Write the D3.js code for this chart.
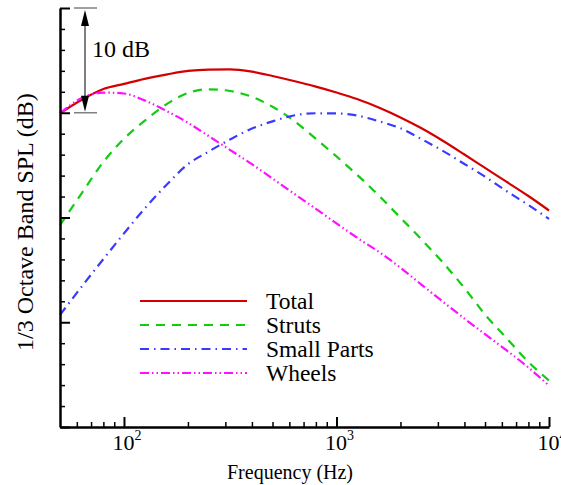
<!DOCTYPE html>
<html>
<head>
<meta charset="utf-8">
<script src="https://cdn.jsdelivr.net/npm/d3@7"></script>
<style>
  html, body { margin: 0; padding: 0; background: #fff; }
  svg { display: block; }
  text { font-family: "Liberation Serif", "Times New Roman", serif; fill: #000; }
</style>
</head>
<body>
<svg id="chart" width="561" height="485"></svg>
<script>
// 1/3-octave band centre frequencies (Hz)
const freqs = [50, 63, 80, 100, 125, 160, 200, 250, 315, 400, 500, 630, 800,
               1000, 1250, 1600, 2000, 2500, 3150, 4000, 5000, 6300, 8000, 10000];

// Relative SPL values (dB)
const total = [29.95, 31.22, 32.27, 32.76, 33.24, 33.67, 33.99, 34.12, 34.14, 33.92, 33.51, 33.03,
               32.49, 31.93, 31.31, 30.45, 29.55, 28.54, 27.35, 26.01, 24.73, 23.42, 22.05, 20.67];
const struts = [19.28, 22.26, 25.30, 27.51, 29.23, 30.87, 31.89, 32.24, 32.08, 31.52, 30.57, 29.24,
                27.51, 25.83, 24.08, 22.00, 19.98, 17.95, 15.75, 13.27, 10.74, 8.50, 6.21, 4.44];
const smallParts = [10.70, 13.36, 16.03, 18.48, 20.84, 23.20, 25.09, 26.29, 27.44, 28.49, 29.18, 29.74,
                    29.95, 29.94, 29.73, 29.16, 28.52, 27.51, 26.39, 25.11, 23.90, 22.53, 21.19, 19.86];
const wheels = [29.95, 31.38, 31.93, 31.84, 31.18, 30.13, 29.05, 27.78, 26.46, 25.09, 23.72, 22.29,
                20.83, 19.44, 18.07, 16.65, 15.21, 13.62, 12.00, 10.35, 8.86, 7.33, 5.68, 3.95];

const seriesNames = ["Total", "Struts", "Small Parts", "Wheels"];
const xMajorTicks = [100, 1000, 10000];
const xMajorExponents = ["2", "3", "4"];
const yMajorTicks = [0, 10, 20, 30, 40];
const yMinorTicks = [2, 4, 6, 8, 12, 14, 16, 18, 22, 24, 26, 28, 32, 34, 36, 38];
const annotationLabel = "10 dB";
const xTitle = "Frequency (Hz)";
const yTitle = "1/3 Octave Band SPL (dB)";

const styles = [
  { color: "#d40000", dash: null },
  { color: "#11cc11", dash: "9,7" },
  { color: "#3a3aff", dash: "9,5,1.5,5" },
  { color: "#ff11ff", dash: "9,3,1.5,3,1.5,3" }
];
const seriesData = [total, struts, smallParts, wheels];

const svg = d3.select("#chart");
const mLeft = 60, mRight = 549, mTop = 8, mBottom = 427;

const x = d3.scaleLog().domain([50, 10000]).range([mLeft, mRight]);
const y = d3.scaleLinear().domain([0, 40]).range([mBottom, mTop]);

// curves
const line = d3.line()
  .x((d, i) => x(freqs[i]))
  .y(d => y(d))
  .curve(d3.curveMonotoneX);

const plot = svg.append("g");
seriesData.forEach((vals, k) => {
  plot.append("path")
    .attr("d", line(vals))
    .attr("fill", "none")
    .attr("stroke", styles[k].color)
    .attr("stroke-width", 2.2)
    .attr("stroke-dasharray", styles[k].dash);
});

// x axis minor ticks
const xMinor = x.ticks().filter(v => !xMajorTicks.includes(v) && v > 50);
svg.append("g")
  .attr("transform", `translate(0,${mBottom})`)
  .call(d3.axisBottom(x).tickValues(xMinor).tickSize(-5).tickSizeOuter(0).tickFormat(""))
  .call(g => g.select(".domain").remove())
  .call(g => g.selectAll("line").attr("stroke", "#000").attr("stroke-width", 1.5));
// x axis major ticks
svg.append("g")
  .attr("transform", `translate(0,${mBottom})`)
  .call(d3.axisBottom(x).tickValues(xMajorTicks).tickSize(-10).tickSizeOuter(0).tickFormat(""))
  .call(g => g.select(".domain").attr("stroke", "#000").attr("stroke-width", 2.5))
  .call(g => g.selectAll(".tick line").attr("stroke", "#000").attr("stroke-width", 2));

// x tick labels 10^n
xMajorTicks.forEach((v, i) => {
  const t = svg.append("text")
    .attr("x", x(v) + 3)
    .attr("y", 450)
    .attr("text-anchor", "middle")
    .style("font-size", "22px");
  t.append("tspan").text("10");
  t.append("tspan").attr("dy", -10).style("font-size", "14px").text(xMajorExponents[i]);
});

// y axis minor ticks
svg.append("g")
  .attr("transform", `translate(${mLeft},0)`)
  .call(d3.axisLeft(y).tickValues(yMinorTicks).tickSize(-5).tickSizeOuter(0).tickFormat(""))
  .call(g => g.select(".domain").remove())
  .call(g => g.selectAll("line").attr("stroke", "#000").attr("stroke-width", 1.5));
// y axis major ticks
svg.append("g")
  .attr("transform", `translate(${mLeft},0)`)
  .call(d3.axisLeft(y).tickValues(yMajorTicks).tickSize(-10).tickSizeOuter(0).tickFormat(""))
  .call(g => g.select(".domain").attr("stroke", "#000").attr("stroke-width", 2.5))
  .call(g => g.selectAll(".tick line").attr("stroke", "#000").attr("stroke-width", 2));

// axis titles
svg.append("text")
  .attr("x", 290).attr("y", 479)
  .attr("text-anchor", "middle")
  .style("font-size", "20px")
  .text(xTitle);
svg.append("text")
  .attr("transform", `translate(33,${222}) rotate(-90)`)
  .attr("text-anchor", "middle")
  .style("font-size", "24px")
  .text(yTitle);

// 10 dB annotation
const ann = svg.append("g");
[40, 30].forEach(v => {
  ann.append("line")
    .attr("x1", 74).attr("x2", 97)
    .attr("y1", y(v)).attr("y2", y(v))
    .attr("stroke", "#808080").attr("stroke-width", 1.5);
});
const ax = 85, yTop = y(40) + 2, yBot = y(30) - 1;
ann.append("line")
  .attr("x1", ax).attr("x2", ax).attr("y1", yTop + 10).attr("y2", yBot - 10)
  .attr("stroke", "#000").attr("stroke-width", 1);
ann.append("path")
  .attr("d", `M${ax},${yTop} L${ax - 4},${yTop + 16} L${ax + 4},${yTop + 16} Z`)
  .attr("fill", "#000");
ann.append("path")
  .attr("d", `M${ax},${yBot} L${ax - 4},${yBot - 16} L${ax + 4},${yBot - 16} Z`)
  .attr("fill", "#000");
ann.append("text")
  .attr("x", 92).attr("y", 57)
  .style("font-size", "24px")
  .text(annotationLabel);

// legend
const legend = svg.append("g");
const legendY = [301, 325, 349, 373];
seriesNames.forEach((name, k) => {
  legend.append("line")
    .attr("x1", 140).attr("x2", 247)
    .attr("y1", legendY[k]).attr("y2", legendY[k])
    .attr("stroke", styles[k].color)
    .attr("stroke-width", 2.2)
    .attr("stroke-dasharray", styles[k].dash);
  legend.append("text")
    .attr("x", 266).attr("y", legendY[k] + 8)
    .style("font-size", "23.5px")
    .text(name);
});
</script>
</body>
</html>
